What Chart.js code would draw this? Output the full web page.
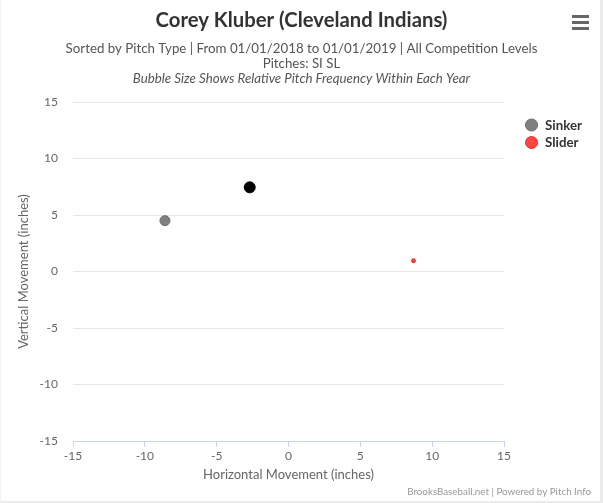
<!DOCTYPE html>
<html>
<head>
<meta charset="utf-8">
<title>Corey Kluber (Cleveland Indians)</title>
<script src="https://cdn.jsdelivr.net/npm/chart.js@4.4.1/dist/chart.umd.min.js"></script>
<style>
  html, body { margin: 0; padding: 0; background: #fff; }
  #wrap { position: relative; width: 603px; height: 503px; }
</style>
</head>
<body>
<div id="wrap"><canvas id="movement"></canvas></div>
<script>
// pitch movement per pitch type, 2018
const pitchNames = ['Sinker', 'Slider'];
const horizontalMovement = [-8.6, 8.7];
const verticalMovement = [4.5, 0.95];
const relativeFrequency = [0.5, 0.2];
const pitchColors = ['#7f7f7f', '#f44'];
const pitchBorders = ['#6a6a6a', '#e03030'];

// unlabelled black bubble drawn over the chart
const extraX = [-2.7];
const extraY = [7.45];
const extraFrequency = [0.55];

const axisTicks = [-15, -10, -5, 0, 5, 10, 15];

const titleText = 'Corey Kluber (Cleveland Indians)';
const subtitleLines = [
    'Sorted by Pitch Type | From 01/01/2018 to 01/01/2019 | All Competition Levels',
    'Pitches: SI SL',
];
const noteText = 'Bubble Size Shows Relative Pitch Frequency Within Each Year';
const creditText = 'BrooksBaseball.net | Powered by Pitch Info';

const FONT = 'Lato, "Liberation Sans", Arial, sans-serif';
const BUBBLE_SCALE = 10;

const datasets = pitchNames.map((name, i) => ({
    label: name,
    data: [{ x: horizontalMovement[i], y: verticalMovement[i], r: relativeFrequency[i] * BUBBLE_SCALE }],
    backgroundColor: pitchColors[i],
    borderColor: pitchBorders[i],
    borderWidth: 1,
}));
datasets.push({
    label: '',
    data: extraX.map((x, i) => ({ x, y: extraY[i], r: extraFrequency[i] * BUBBLE_SCALE })),
    backgroundColor: '#000',
    borderColor: '#000',
    borderWidth: 1,
});

// header, legend, menu icon, credits and frame
const decorations = {
    id: 'decorations',
    afterDraw(chart) {
        const ctx = chart.ctx;
        const cx = chart.width / 2;
        ctx.save();
        ctx.textAlign = 'center';
        ctx.textBaseline = 'middle';

        ctx.fillStyle = '#333';
        ctx.font = 'bold 20.3px ' + FONT;
        ctx.fillText(titleText, cx, 20);

        ctx.fillStyle = '#555';
        ctx.font = '13.3px ' + FONT;
        subtitleLines.forEach((line, i) => ctx.fillText(line, cx, 49 + i * 15));
        ctx.font = 'italic 13.3px ' + FONT;
        ctx.fillText(noteText, cx, 79);

        // menu icon
        ctx.fillStyle = '#666';
        [15, 21, 27].forEach(y => ctx.fillRect(572, y, 17, 3));

        // legend
        ctx.textAlign = 'left';
        ctx.font = 'bold 13.3px ' + FONT;
        pitchNames.forEach((name, i) => {
            const y = 125 + i * 17.5;
            ctx.beginPath();
            ctx.arc(531.5, y, 6, 0, Math.PI * 2);
            ctx.fillStyle = pitchColors[i];
            ctx.fill();
            ctx.strokeStyle = pitchBorders[i];
            ctx.lineWidth = 1;
            ctx.stroke();
            ctx.fillStyle = '#333';
            ctx.fillText(name, 545, y + 0.5);
        });

        // credits
        ctx.textAlign = 'right';
        ctx.fillStyle = '#999';
        ctx.font = '9.8px ' + FONT;
        ctx.fillText(creditText, 591, 492);

        // frame
        ctx.fillStyle = '#ebebeb';
        ctx.fillRect(600, 0, 3, 503);
        ctx.fillRect(0, 501, 603, 2);
        ctx.fillStyle = '#f3f3f3';
        ctx.fillRect(0, 0, 1, 503);
        ctx.restore();
    }
};

new Chart(document.getElementById('movement'), {
    type: 'bubble',
    data: { datasets },
    options: {
        responsive: true,
        maintainAspectRatio: false,
        animation: false,
        layout: { padding: { top: 102, right: 99, left: 0, bottom: 0 } },
        plugins: {
            legend: { display: false },
            tooltip: { enabled: false },
        },
        scales: {
            x: {
                type: 'linear',
                min: -15,
                max: 15,
                afterBuildTicks: (scale) => { scale.ticks = axisTicks.map(v => ({ value: v })); },
                afterFit: (scale) => { scale.height = 62; },
                grid: { drawOnChartArea: false, color: '#ccd6eb', tickLength: 6 },
                border: { color: '#ccd6eb' },
                ticks: { color: '#666', font: { family: FONT, size: 12 }, padding: 2, maxRotation: 0 },
                title: {
                    display: true,
                    text: 'Horizontal Movement (inches)',
                    color: '#666',
                    font: { family: FONT, size: 13 },
                    padding: { top: 0, bottom: 20 },
                },
            },
            y: {
                type: 'linear',
                min: -15,
                max: 15,
                afterBuildTicks: (scale) => { scale.ticks = axisTicks.map(v => ({ value: v })); },
                afterFit: (scale) => { scale.width = 73; },
                grid: { color: '#e6e6e6', drawTicks: false },
                border: { display: false },
                ticks: { color: '#666', font: { family: FONT, size: 12 }, padding: 15 },
                title: {
                    display: true,
                    text: 'Vertical Movement (inches)',
                    color: '#666',
                    font: { family: FONT, size: 13 },
                    padding: { top: 16, bottom: 0 },
                },
            },
        },
    },
    plugins: [decorations],
});
</script>
</body>
</html>
